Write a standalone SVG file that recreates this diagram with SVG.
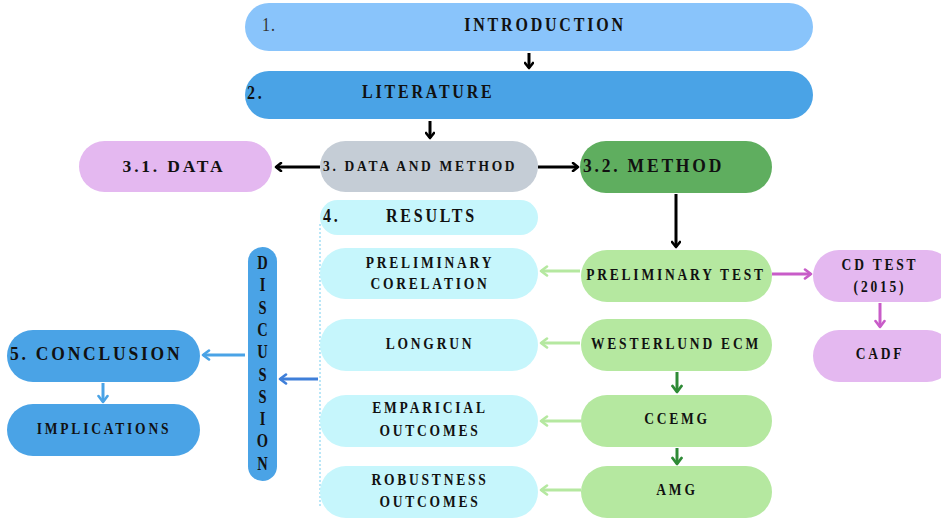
<svg xmlns="http://www.w3.org/2000/svg" width="941" height="520" viewBox="0 0 941 520">
<defs>
<marker id="ak" markerWidth="10" markerHeight="10" refX="7" refY="5" orient="auto" markerUnits="userSpaceOnUse"><polyline points="2,1 7,5 2,9" fill="none" stroke="#000" stroke-width="2.6" stroke-linecap="round" stroke-linejoin="round"/></marker>
<marker id="alg" markerWidth="12" markerHeight="12" refX="8" refY="6" orient="auto" markerUnits="userSpaceOnUse"><polyline points="2,1.5 8,6 2,10.5" fill="none" stroke="#b5e8a0" stroke-width="2.6" stroke-linecap="round" stroke-linejoin="round"/></marker>
<marker id="adg" markerWidth="12" markerHeight="12" refX="8" refY="6" orient="auto" markerUnits="userSpaceOnUse"><polyline points="2,1.5 8,6 2,10.5" fill="none" stroke="#2e8a36" stroke-width="2.8" stroke-linecap="round" stroke-linejoin="round"/></marker>
<marker id="ap" markerWidth="12" markerHeight="12" refX="8" refY="6" orient="auto" markerUnits="userSpaceOnUse"><polyline points="2,1.5 8,6 2,10.5" fill="none" stroke="#c85cc8" stroke-width="2.6" stroke-linecap="round" stroke-linejoin="round"/></marker>
<marker id="ab" markerWidth="12" markerHeight="12" refX="8" refY="6" orient="auto" markerUnits="userSpaceOnUse"><polyline points="2,1.5 8,6 2,10.5" fill="none" stroke="#4aa3e6" stroke-width="2.6" stroke-linecap="round" stroke-linejoin="round"/></marker>
<marker id="ab2" markerWidth="12" markerHeight="12" refX="8" refY="6" orient="auto" markerUnits="userSpaceOnUse"><polyline points="2,1.5 8,6 2,10.5" fill="none" stroke="#3f7fd9" stroke-width="2.6" stroke-linecap="round" stroke-linejoin="round"/></marker>
</defs>
<style>
text{font-family:"Liberation Serif","Times New Roman",serif;font-weight:bold;fill:#111;letter-spacing:2.8px}
.c{text-anchor:middle}
.s{font-size:13.5px}
.m{font-size:16px}
.l{font-size:17.5px}
.k{stroke:#000;stroke-width:3;fill:none}
.lg{stroke:#b5e8a0;stroke-width:3;fill:none}
.dg{stroke:#2e8a36;stroke-width:3;fill:none}
.pp{stroke:#c85cc8;stroke-width:3;fill:none}
.bl{stroke:#4aa3e6;stroke-width:3;fill:none}
.bl2{stroke:#3f7fd9;stroke-width:3;fill:none}
.cy{fill:#c6f6fc}
.gr{fill:#b5e8a0}
.pk{fill:#e4b8f0}
.bd{fill:#4aa3e6}
.v{font-size:14.5px;letter-spacing:0}
</style>
<g id="connectors">
<line class="k" x1="529" y1="53" x2="529" y2="68" marker-end="url(#ak)"/>
<line class="k" x1="430" y1="121" x2="430" y2="138" marker-end="url(#ak)"/>
<line class="k" x1="320" y1="167" x2="276" y2="167" marker-end="url(#ak)"/>
<line class="k" x1="538" y1="167" x2="578" y2="167" marker-end="url(#ak)"/>
<line class="k" x1="676" y1="194" x2="676" y2="247" marker-end="url(#ak)"/>
<line class="lg" x1="580" y1="271" x2="541" y2="271" marker-end="url(#alg)"/>
<line class="lg" x1="580" y1="343" x2="541" y2="343" marker-end="url(#alg)"/>
<line class="lg" x1="581" y1="421" x2="541" y2="421" marker-end="url(#alg)"/>
<line class="lg" x1="581" y1="490" x2="541" y2="490" marker-end="url(#alg)"/>
<line class="dg" x1="677" y1="372" x2="677" y2="392" marker-end="url(#adg)"/>
<line class="dg" x1="677" y1="448" x2="677" y2="464" marker-end="url(#adg)"/>
<line class="pp" x1="772" y1="274" x2="811" y2="274" marker-end="url(#ap)"/>
<line class="pp" x1="880" y1="303" x2="880" y2="327" marker-end="url(#ap)"/>
<line class="bl2" x1="318" y1="379" x2="280" y2="379" marker-end="url(#ab2)"/>
<line class="bl" x1="245" y1="355" x2="203" y2="355" marker-end="url(#ab)"/>
<line class="bl" x1="103" y1="383" x2="103" y2="402" marker-end="url(#ab)"/>
<line x1="320" y1="224" x2="320" y2="506" stroke="#b9e6f7" stroke-width="2" stroke-dasharray="2,2"/>
</g>
<g id="introduction"><rect x="245" y="3" width="568" height="48" rx="24" fill="#89c4fb"/><text class="m" transform="matrix(1 0 0 1.2 0 31)" x="262" y="0" style="font-weight:normal;letter-spacing:1px;fill:#333">1.</text><text class="m c" transform="matrix(1 0 0 1.2 0 31)" x="545" y="0">INTRODUCTION</text></g>
<g id="literature"><rect x="245" y="71" width="568" height="48" rx="24" fill="#4aa3e6"/><text class="m" transform="matrix(1 0 0 1.2 0 99)" x="247" y="0">2.</text><text class="m" transform="matrix(1 0 0 1.2 0 98)" x="362" y="0">LITERATURE</text></g>
<g id="data-method"><rect x="320" y="141" width="218" height="51" rx="25.5" fill="#c5cdd6"/><text class="s" transform="matrix(1 0 0 1.12 0 171)" x="323" y="0" style="letter-spacing:2.7px">3. DATA AND METHOD</text></g>
<g id="data"><rect x="79" y="141" width="193" height="51" rx="25.5" class="pk"/><text class="l c" x="174" y="172">3.1. DATA</text></g>
<g id="method"><rect x="580" y="141" width="192" height="52" rx="26" fill="#5fae5f"/><text class="l" transform="matrix(1 0 0 1.08 0 172)" x="583" y="0">3.2. METHOD</text></g>
<g id="results"><rect x="320" y="200" width="218" height="35" rx="17.5" class="cy"/><text class="m" transform="matrix(1 0 0 1.2 0 222)" x="323" y="0">4.</text><text class="m" transform="matrix(1 0 0 1.2 0 222)" x="386" y="0">RESULTS</text></g>
<g id="prelim-corelation"><rect x="320" y="248" width="218" height="51" rx="25.5" class="cy"/><text class="s c" transform="matrix(1 0 0 1.25 0 268)" x="430" y="0">PRELIMINARY</text><text class="s c" transform="matrix(1 0 0 1.25 0 289)" x="430" y="0">CORELATION</text></g>
<g id="longrun"><rect x="320" y="319" width="218" height="52" rx="26" class="cy"/><text class="s c" transform="matrix(1 0 0 1.25 0 349)" x="430" y="0">LONGRUN</text></g>
<g id="emparicial"><rect x="320" y="395" width="218" height="52" rx="26" class="cy"/><text class="s c" transform="matrix(1 0 0 1.25 0 413)" x="430" y="0">EMPARICIAL</text><text class="s c" transform="matrix(1 0 0 1.25 0 435.5)" x="430" y="0">OUTCOMES</text></g>
<g id="robustness"><rect x="320" y="466" width="218" height="52" rx="26" class="cy"/><text class="s c" transform="matrix(1 0 0 1.25 0 484.5)" x="430" y="0">ROBUSTNESS</text><text class="s c" transform="matrix(1 0 0 1.25 0 507)" x="430" y="0">OUTCOMES</text></g>
<g id="prelim-test"><rect x="581" y="250" width="191" height="52" rx="26" class="gr"/><text class="s c" transform="matrix(1 0 0 1.25 0 280)" x="676" y="0">PRELIMINARY TEST</text></g>
<g id="westerlund"><rect x="581" y="319" width="191" height="52" rx="26" class="gr"/><text class="s c" transform="matrix(1 0 0 1.25 0 348.5)" x="676" y="0">WESTERLUND ECM</text></g>
<g id="ccemg"><rect x="581" y="395" width="191" height="52" rx="26" class="gr"/><text class="s c" transform="matrix(1 0 0 1.25 0 424)" x="677" y="0">CCEMG</text></g>
<g id="amg"><rect x="581" y="466" width="191" height="52" rx="26" class="gr"/><text class="s c" transform="matrix(1 0 0 1.25 0 495)" x="677" y="0">AMG</text></g>
<g id="cd-test"><rect x="813" y="250" width="140" height="52" rx="26" class="pk"/><text class="s c" transform="matrix(1 0 0 1.2 0 270)" x="880" y="0">CD TEST</text><text class="s c" transform="matrix(1 0 0 1.2 0 292)" x="880" y="0">(2015)</text></g>
<g id="cadf"><rect x="813" y="330" width="140" height="52" rx="26" class="pk"/><text class="s c" transform="matrix(1 0 0 1.2 0 359)" x="880" y="0">CADF</text></g>
<g id="discussion"><rect x="248" y="247" width="29" height="234" rx="14.5" class="bd"/>
<text class="v c" transform="matrix(1 0 0 1.25 0 269)" x="262.5" y="0">D</text>
<text class="v c" transform="matrix(1 0 0 1.25 0 291.3)" x="262.5" y="0">I</text>
<text class="v c" transform="matrix(1 0 0 1.25 0 313.6)" x="262.5" y="0">S</text>
<text class="v c" transform="matrix(1 0 0 1.25 0 335.9)" x="262.5" y="0">C</text>
<text class="v c" transform="matrix(1 0 0 1.25 0 358.2)" x="262.5" y="0">U</text>
<text class="v c" transform="matrix(1 0 0 1.25 0 380.5)" x="262.5" y="0">S</text>
<text class="v c" transform="matrix(1 0 0 1.25 0 402.8)" x="262.5" y="0">S</text>
<text class="v c" transform="matrix(1 0 0 1.25 0 425.1)" x="262.5" y="0">I</text>
<text class="v c" transform="matrix(1 0 0 1.25 0 447.4)" x="262.5" y="0">O</text>
<text class="v c" transform="matrix(1 0 0 1.25 0 469.7)" x="262.5" y="0">N</text>
</g>
<g id="conclusion"><rect x="7" y="330" width="193" height="52" rx="26" class="bd"/><text class="l" transform="matrix(1 0 0 1.1 0 360)" x="10" y="0">5. CONCLUSION</text></g>
<g id="implications"><rect x="7" y="404" width="193" height="52" rx="26" class="bd"/><text class="s c" transform="matrix(1 0 0 1.25 0 434)" x="104" y="0">IMPLICATIONS</text></g>
</svg>
